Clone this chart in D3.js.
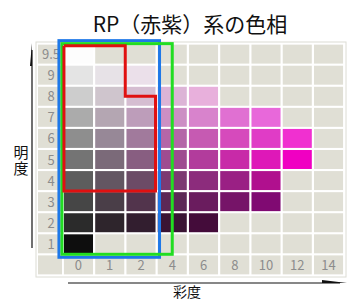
<!DOCTYPE html>
<meta charset="utf-8">
<style>
  body { margin: 0; background: #fff; }
  svg { display: block; }
  text { font-family: "Noto Sans CJK JP", "Noto Sans", sans-serif; }
</style>
<script src="https://d3js.org/d3.v7.min.js"></script>
<div id="chart"></div>
<script>
// munsell value rows (top to bottom) and chroma columns
var values = ["9.5", "9", "8", "7", "6", "5", "4", "3", "2", "1"];
var chromas = ["0", "1", "2", "4", "6", "8", "10", "12", "14"];

// swatch colours per value row, starting at chroma 0
var row95 = ["#fdfdfd"];
var row9 = ["#e4e4e4", "#e7e2e7", "#ebe0ea"];
var row8 = ["#cdcdcd", "#cfc5cd", "#d5bdd1", "#dcb4d6", "#e8b0dc"];
var row7 = ["#ababab", "#b4a6b2", "#bd9dba", "#cc8fc4", "#d883cc", "#e070d2", "#e868da"];
var row6 = ["#8e8e8e", "#978897", "#a17a9c", "#b466a8", "#c65ab2", "#d64abc", "#e03cc6", "#f030d0"];
var row5 = ["#747474", "#7b6a79", "#885e81", "#9e4c91", "#b23c9c", "#c82aa8", "#de18b8", "#f000c2"];
var row4 = ["#5d5d5d", "#635662", "#6c4b66", "#7c3a72", "#8c2c7c", "#9a2084", "#b0108e"];
var row3 = ["#464646", "#4a3e48", "#52344c", "#5c2856", "#6a1c5e", "#761468", "#800a72"];
var row2 = ["#2b2b2b", "#2e252c", "#321e2f", "#3a1434", "#440c3a"];
var row1 = ["#0e0e0e"];
var rows = [row95, row9, row8, row7, row6, row5, row4, row3, row2, row1];

var width = 357, height = 300;
var svg = d3.select("#chart").append("svg")
    .attr("width", width)
    .attr("height", height);

// title
svg.append("text")
    .attr("x", 190)
    .attr("y", 32)
    .attr("text-anchor", "middle")
    .attr("font-size", 21)
    .attr("fill", "#111")
    .text("RP（赤紫）系の色相");

// scales
var x = d3.scaleBand().domain(chromas).range([63, 344]).paddingInner(0.07).paddingOuter(0.03);
var y = d3.scaleBand().domain(values.concat(["axis"])).range([44, 275]).paddingInner(0.1).paddingOuter(0.03);
var labX0 = 38, labX1 = 62;
var empty = "#e0dfd5";

// panel
svg.append("rect")
    .attr("x", 36).attr("y", 42)
    .attr("width", 310).attr("height", 235)
    .attr("fill", "#fff")
    .attr("stroke", "#dcdcd4");

// label column cells
svg.selectAll(".lab")
    .data(values.concat(["axis"]))
    .enter().append("rect")
    .attr("x", labX0)
    .attr("y", function(d) { return y(d); })
    .attr("width", labX1 - labX0)
    .attr("height", y.bandwidth())
    .attr("fill", empty);

// cells
var cells = [];
values.forEach(function(v, i) {
    chromas.forEach(function(c, j) {
        cells.push({ v: v, c: c, color: rows[i][j] || empty });
    });
});
chromas.forEach(function(c) { cells.push({ v: "axis", c: c, color: empty }); });

svg.selectAll(".cell")
    .data(cells)
    .enter().append("rect")
    .attr("x", function(d) { return x(d.c); })
    .attr("y", function(d) { return y(d.v); })
    .attr("width", x.bandwidth())
    .attr("height", y.bandwidth())
    .attr("fill", function(d) { return d.color; });

// tick labels
svg.selectAll(".vlab")
    .data(values)
    .enter().append("text")
    .attr("x", (labX0 + labX1) / 2 + 1)
    .attr("y", function(d) { return y(d) + y.bandwidth() / 2 + 5; })
    .attr("text-anchor", "middle")
    .attr("font-size", 13)
    .attr("fill", "#8c8c8c")
    .text(function(d) { return d; });

svg.selectAll(".clab")
    .data(chromas)
    .enter().append("text")
    .attr("x", function(d) { return x(d) + x.bandwidth() / 2; })
    .attr("y", y("axis") + y.bandwidth() / 2 + 5)
    .attr("text-anchor", "middle")
    .attr("font-size", 13)
    .attr("fill", "#8c8c8c")
    .text(function(d) { return d; });

// outlines (red: step shape, blue and green: boxes)
var gx0 = x("0"), gy0 = y("9.5");
var r1 = x("1") + x.bandwidth() + 1, r2 = x("2") + x.bandwidth();
var mid8 = y("8") + y.bandwidth() / 2;
var bot4 = y("4") + y.bandwidth();
var bot1 = y("1") + y.bandwidth();

svg.append("rect")
    .attr("x", gx0 - 5).attr("y", gy0 - 4)
    .attr("width", r2 - gx0 + 9).attr("height", bot1 - gy0 + 8)
    .attr("fill", "none").attr("stroke", "#1e78e8").attr("stroke-width", 3);

svg.append("rect")
    .attr("x", gx0 - 2).attr("y", gy0 - 1)
    .attr("width", x("4") + x.bandwidth() / 2 - gx0 + 2).attr("height", bot1 - gy0 + 2)
    .attr("fill", "none").attr("stroke", "#22dd22").attr("stroke-width", 3);

svg.append("path")
    .attr("d", d3.line()([[gx0, gy0 + 1], [r1, gy0 + 1], [r1, mid8], [r2, mid8], [r2, bot4 + 1], [gx0, bot4 + 1], [gx0, gy0 + 1]]))
    .attr("fill", "none").attr("stroke", "#e01010").attr("stroke-width", 3)
    .attr("stroke-linejoin", "miter");

// axes arrows
svg.append("line")
    .attr("x1", 32).attr("y1", 50).attr("x2", 32).attr("y2", 248)
    .attr("stroke", "#111").attr("stroke-width", 1.2);
svg.append("path")
    .attr("d", "M32,43 L30,66 L32,66 Z")
    .attr("fill", "#111");

svg.append("line")
    .attr("x1", 68).attr("y1", 283).attr("x2", 340).attr("y2", 283)
    .attr("stroke", "#111").attr("stroke-width", 1.2);
svg.append("path")
    .attr("d", "M322,280 L347,283 L322,283 Z")
    .attr("fill", "#111");

// axis titles
svg.append("text")
    .attr("x", 21).attr("y", 145)
    .attr("font-size", 15)
    .attr("fill", "#111")
    .style("writing-mode", "vertical-rl")
    .style("letter-spacing", "1px")
    .text("明度");

svg.append("text")
    .attr("x", 187).attr("y", 297)
    .attr("text-anchor", "middle")
    .attr("font-size", 14)
    .attr("fill", "#111")
    .text("彩度");
</script>
